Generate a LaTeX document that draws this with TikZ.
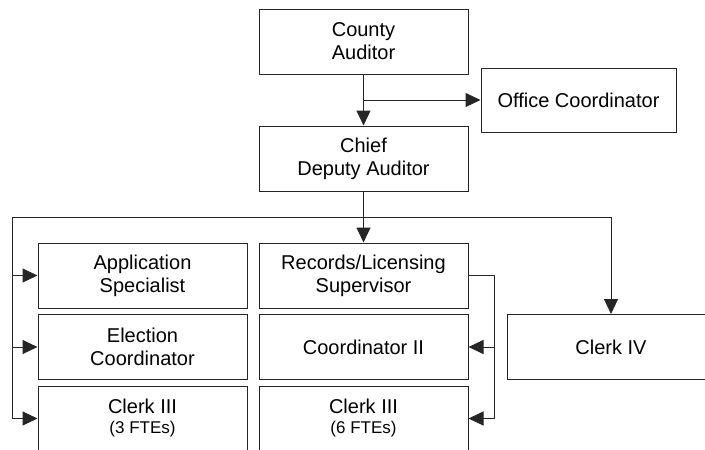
\documentclass[tikz,border=0pt]{standalone}
\usepackage{fontspec}
\setmainfont{Liberation Sans}
\usetikzlibrary{arrows.meta}
\begin{document}
\begin{tikzpicture}[x=1pt,y=-1pt,
  box/.style={draw=black!85,line width=1pt,minimum width=209pt,minimum height=65pt,inner sep=0pt,align=center,font=\fontsize{20}{23}\selectfont},
  conn/.style={draw=black!85,line width=1pt},
  arr/.style={conn,-{Triangle[length=15pt,width=14pt]}},
  small/.style={}]
\useasboundingbox (0,0) rectangle (705,450);
\clip (0,0) rectangle (705,450);
\fill[white] (0,0) rectangle (705,450);
\node[box] (county) at (363.5,41.5) {County\\Auditor};
\node[box,minimum width=195pt,minimum height=64pt] (office) at (578.5,100) {Office Coordinator};
\node[box] (chief) at (363.5,158.5) {Chief\\Deputy Auditor};
\node[box] (app) at (142.5,275.5) {Application\\Specialist};
\node[box] (elec) at (142.5,347) {Election\\Coordinator};
\node[box] (clerkA) at (142.5,418.5) {Clerk III\\[-3pt]{\fontsize{17}{20}\selectfont (3 FTEs)}};
\node[box] (records) at (363.5,275.5) {Records/Licensing\\Supervisor};
\node[box] (coord) at (363.5,347) {Coordinator II};
\node[box] (clerkB) at (363.5,418.5) {Clerk III\\[-3pt]{\fontsize{17}{20}\selectfont (6 FTEs)}};
\node[box,minimum width=208pt] (clerkIV) at (611,347) {Clerk IV};
% top connectors
\draw[arr] (county) -- (chief);
\coordinate (j1) at (county.south |- office.west);
\draw[arr] (j1) -- (office.west);
\draw[arr] (chief) -- (records);
% bus
\coordinate (busL) at (12,217);
\coordinate (busR) at (clerkIV.north |- busL);
\draw[conn] (busL) -- (busR);
\draw[arr] (busR) -- (clerkIV.north);
\draw[conn] (busL) -- (busL |- clerkA.west);
\draw[arr] (busL |- app.west) -- (app.west);
\draw[arr] (busL |- elec.west) -- (elec.west);
\draw[arr] (busL |- clerkA.west) -- (clerkA.west);
% records branch
\coordinate (rr) at (494,275.5);
\draw[conn] (records.east) -- (rr) -- (rr |- clerkB.east);
\draw[arr] (rr |- coord.east) -- (coord.east);
\draw[arr] (rr |- clerkB.east) -- (clerkB.east);
\end{tikzpicture}
\end{document}
